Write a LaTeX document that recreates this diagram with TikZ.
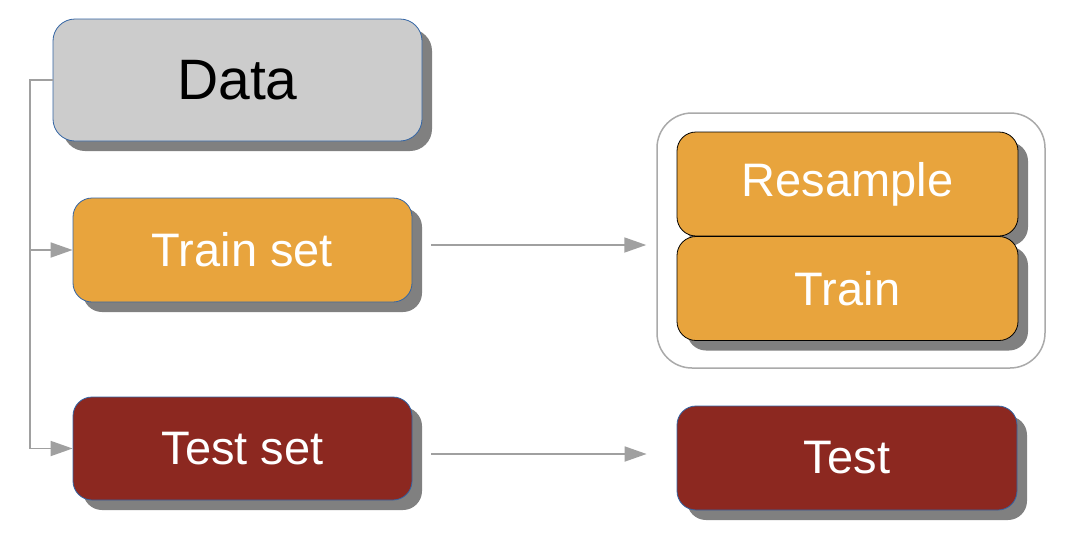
\documentclass[tikz,border=0pt]{standalone}
\usepackage{fontspec}
\setmainfont{Liberation Sans}
\usetikzlibrary{arrows.meta,shadows,calc}
\definecolor{datagray}{HTML}{CCCCCC}
\definecolor{orangebox}{HTML}{E8A43D}
\definecolor{redbox}{HTML}{8C2820}
\definecolor{edgeblue}{HTML}{3465A4}
\definecolor{shadowgray}{HTML}{808080}
\definecolor{conngray}{HTML}{A0A0A0}
\definecolor{groupgray}{HTML}{AAAAAA}
\tikzset{
  boxbase/.style={rectangle, rounded corners=19pt, inner sep=0pt, line width=0.8pt,
    drop shadow={shadow xshift=10pt, shadow yshift=-10pt, fill=shadowgray, opacity=1},
    font=\fontsize{47}{50}\selectfont},
  databox/.style={boxbase, draw=edgeblue, fill=datagray, text=black, rounded corners=22pt,
    minimum width=369pt, minimum height=122pt, font=\fontsize{57}{60}\selectfont},
  orangeset/.style={boxbase, draw=edgeblue, fill=orangebox, text=white,
    minimum width=339pt, minimum height=104pt},
  redset/.style={boxbase, draw=edgeblue, fill=redbox, text=white,
    minimum width=339pt, minimum height=103pt},
  stagebox/.style={boxbase, draw=black, fill=orangebox, text=white,
    minimum width=341pt, minimum height=104pt},
  testbox/.style={boxbase, draw=edgeblue, fill=redbox, text=white,
    minimum width=340pt, minimum height=104pt},
  groupbox/.style={rectangle, rounded corners=35pt, draw=groupgray, line width=1.5pt, fill=white,
    minimum width=388pt, minimum height=255pt, inner sep=0pt},
  conn/.style={draw=conngray, line width=1.8pt,
    -{Triangle[length=22pt,width=15pt,fill=conngray]}}
}
\begin{document}
\begin{tikzpicture}[x=1pt,y=-1pt]
\useasboundingbox (0,0) rectangle (1072,544);
\fill[white] (0,0) rectangle (1072,544);
\node[databox] (data) at (237.5,80) {Data};
\node[orangeset] (trainset) at (242.5,250) {Train set};
\node[redset] (testset) at (242.5,448.5) {Test set};
\node[groupbox] (group) at (851,240.5) {};
\node[stagebox] (resample) at (847.5,184) {Resample};
\node[stagebox] (train) at (847.5,288.5) {Train};
\node[testbox] (test) at (847,458) {Test};
\draw[conn] (data.west) -- ++(-23,0) |- (trainset.west);
\draw[conn] (data.west) -- ++(-23,0) |- (testset.west);
\draw[conn] ([xshift=19pt,yshift=5pt]trainset.east) -- ([xshift=-10pt,yshift=5pt]trainset.east -| group.west);
\draw[conn] ([xshift=19pt,yshift=-5.5pt]testset.east) -- ([xshift=-30pt,yshift=-5.5pt]testset.east -| test.west);
\end{tikzpicture}
\end{document}
